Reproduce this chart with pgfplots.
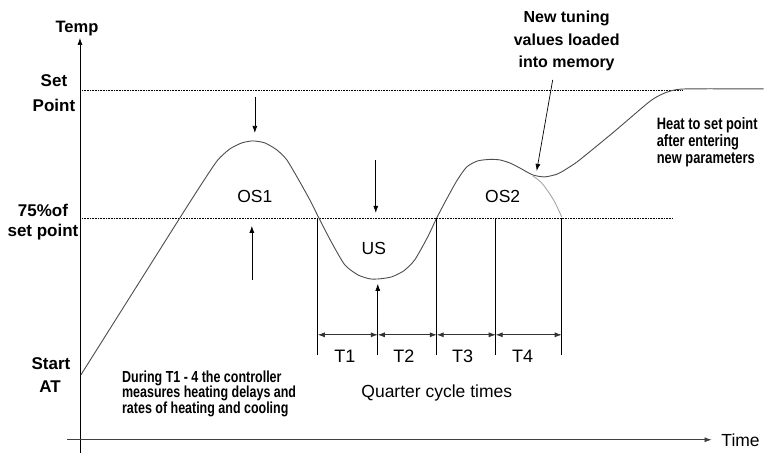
\documentclass[border=0pt]{standalone}
\usepackage{pgfplots}
\pgfplotsset{compat=1.18}
\usepackage{fontspec}
\setmainfont{Liberation Sans}
\newfontfamily\narrowfont[FakeStretch=0.78]{Liberation Sans}
\usetikzlibrary{arrows.meta}
\begin{document}
\begin{tikzpicture}[
  lab/.style={anchor=base, inner sep=0pt, font=\fontsize{17bp}{20bp}\selectfont\bfseries},
  reg/.style={anchor=base, inner sep=0pt, font=\fontsize{17.5bp}{20bp}\selectfont},
  nar/.style={anchor=base west, inner sep=0pt, font=\fontsize{16bp}{18bp}\narrowfont\bfseries},
  arr/.style={-{Latex[length=7bp,width=5bp]}, line width=0.7bp},
  dbl/.style={{Latex[length=7bp,width=5bp]}-{Latex[length=7bp,width=5bp]}, line width=0.7bp, black!80},
]
\begin{axis}[
  scale only axis, width=764bp, height=453bp,
  xmin=0, xmax=764, ymin=0, ymax=453, y dir=reverse,
  hide axis, clip=false,
]
\path (axis cs:0,0) rectangle (axis cs:764,453);
% axes
\draw[black, line width=0.8bp, arr] (axis cs:80,453) -- (axis cs:80,38);
\draw[black!75, line width=0.8bp, arr] (axis cs:67,440) -- (axis cs:712,440);
% dotted reference lines
\draw[line width=0.6bp, dash pattern=on 0.8bp off 0.8bp] (axis cs:82,90) -- (axis cs:683,90);
\draw[line width=0.6bp, dash pattern=on 0.8bp off 0.8bp] (axis cs:82,218) -- (axis cs:673,218);
% response curve
\addplot[black!70, line width=0.9bp, smooth, tension=0.4] coordinates {
 (81,375) (180,218) (205,179) (218,160) (230,149) (242,143) (253,141) (265,143)
 (277,150) (287,160) (300,182) (310,200) (319,218) (332,243) (345,265) (358,275)
 (370,279) (380,279) (392,277) (404,271) (415,260) (428,237) (437,218) (447,199)
 (457,181) (467,167) (478,161) (490,159.5) (500,160) (510,163) (520,168) (533,175)
 (545,177) (558,174) (570,167) (580,160) (613,133) (647,104) (657,97) (668,92)
 (685,89) (764,89)
};
% alternative decay (without new tuning)
\addplot[black!35, line width=0.9bp, smooth, tension=0.5] coordinates {
 (533,176) (541,182) (548,191) (555,202) (562,217)
};
% quarter cycle markers
\draw[black, line width=0.7bp] (axis cs:318,218) -- (axis cs:318,355);
\draw[black, line width=0.7bp] (axis cs:437,218) -- (axis cs:437,355);
\draw[black, line width=0.7bp] (axis cs:496,218) -- (axis cs:496,355);
\draw[black, line width=0.7bp] (axis cs:562,218) -- (axis cs:562,355);
\draw[arr] (axis cs:378,355) -- (axis cs:378,284);
\draw[dbl] (axis cs:318,335) -- (axis cs:378,335);
\draw[dbl] (axis cs:378,335) -- (axis cs:437,335);
\draw[dbl] (axis cs:437,335) -- (axis cs:496,335);
\draw[dbl] (axis cs:496,335) -- (axis cs:562,335);
% other arrows
\draw[arr] (axis cs:255,97) -- (axis cs:255,133);
\draw[arr] (axis cs:252,280) -- (axis cs:252,226);
\draw[arr] (axis cs:376,160) -- (axis cs:376,213);
\draw[arr] (axis cs:553,80) -- (axis cs:537,171);
% labels
\node[lab, font=\fontsize{16.5bp}{18bp}\selectfont\bfseries] at (axis cs:77,33) {Temp};
\node[lab] at (axis cs:54,87) {Set};
\node[lab] at (axis cs:54,112) {Point};
\node[lab] at (axis cs:43,217) {75\%of};
\node[lab] at (axis cs:43,237) {set point};
\node[lab] at (axis cs:51,370) {Start};
\node[lab] at (axis cs:50,393) {AT};
\node[reg] at (axis cs:255,203) {OS1};
\node[reg] at (axis cs:374,255) {US};
\node[reg] at (axis cs:503,203) {OS2};
\node[reg, font=\fontsize{18bp}{20bp}\selectfont] at (axis cs:345,363) {T1};
\node[reg, font=\fontsize{18bp}{20bp}\selectfont] at (axis cs:404,363) {T2};
\node[reg, font=\fontsize{18bp}{20bp}\selectfont] at (axis cs:463,363) {T3};
\node[reg, font=\fontsize{18bp}{20bp}\selectfont] at (axis cs:523,363) {T4};
\node[reg] at (axis cs:437,398) {Quarter cycle times};
\node[reg] at (axis cs:741,447) {Time};
\node[nar] at (axis cs:122,383) {During T1 - 4 the controller};
\node[nar] at (axis cs:122,398) {measures heating delays and};
\node[nar] at (axis cs:122,414) {rates of heating and cooling};
\node[nar, font=\fontsize{16.5bp}{18bp}\narrowfont\bfseries] at (axis cs:657,130) {Heat to set point};
\node[nar, font=\fontsize{16.5bp}{18bp}\narrowfont\bfseries] at (axis cs:657,147) {after entering};
\node[nar, font=\fontsize{16.5bp}{18bp}\narrowfont\bfseries] at (axis cs:657,164) {new parameters};
\node[lab, font=\fontsize{16bp}{18bp}\selectfont\bfseries] at (axis cs:567,23) {New tuning};
\node[lab, font=\fontsize{16bp}{18bp}\selectfont\bfseries] at (axis cs:567,46) {values loaded};
\node[lab, font=\fontsize{16bp}{18bp}\selectfont\bfseries] at (axis cs:567,68) {into memory};
\end{axis}
\end{tikzpicture}
\end{document}
